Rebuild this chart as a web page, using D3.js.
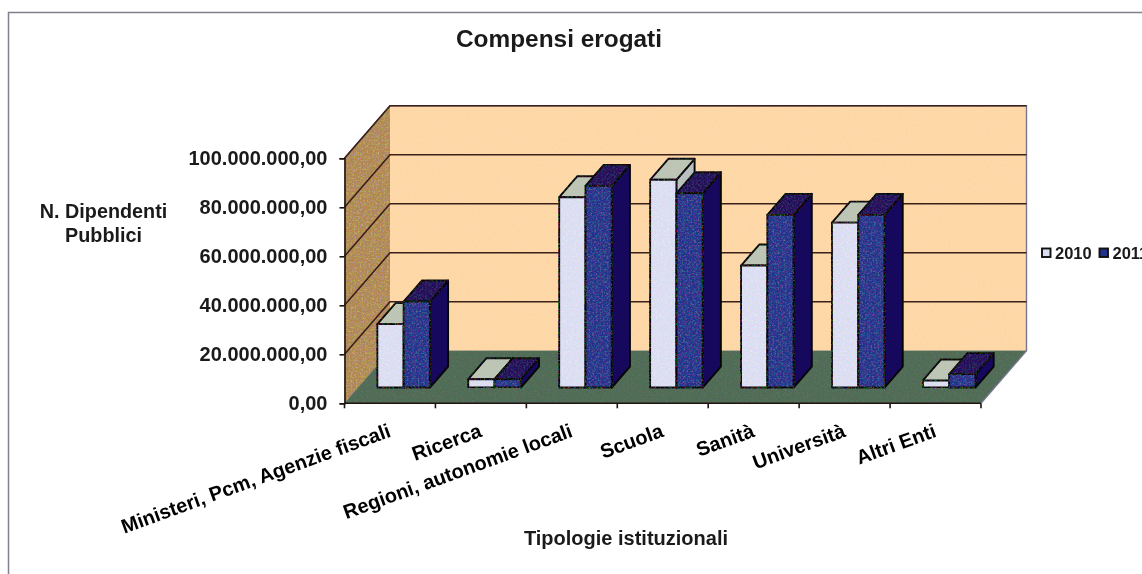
<!DOCTYPE html>
<html>
<head>
<meta charset="utf-8">
<script src="https://cdn.jsdelivr.net/npm/d3@7"></script>
<style>
  html, body { margin: 0; padding: 0; background: #fff; overflow: hidden; }
  svg { filter: blur(0.45px); }
  text { font-family: "Liberation Sans", Arial, sans-serif; font-weight: bold; fill: #1a1a1a; }
</style>
</head>
<body>
<script>
const categories = ["Ministeri, Pcm, Agenzie fiscali", "Ricerca", "Regioni, autonomie locali", "Scuola", "Sanità", "Università", "Altri Enti"];
const seriesNames = ["2010", "2011"];
const values2010 = [25900000, 3400000, 77700000, 84800000, 49800000, 67300000, 2900000];
const values2011 = [35100000, 3400000, 82300000, 79300000, 70500000, 70500000, 5500000];
const yTicks = [0, 20000000, 40000000, 60000000, 80000000, 100000000];

const width = 1142;
const height = 574;

// front plane of the 3d box, the back wall is shifted by depthX/depthY
const depthX = 45.5;
const depthY = -52.5;
const x = d3.scaleBand().domain(categories).range([344.5, 981]);
const y = d3.scaleLinear().domain([0, 100000000]).range([403.3, 158.3]);
const xInner = d3.scaleBand().domain(seriesNames).range([0, x.bandwidth()]).paddingOuter(0.73).paddingInner(0);

const fmt = d => d3.format(",.2f")(d).replace(/,/g, "#").replace(".", ",").replace(/#/g, ".");

const svg = d3.select("body").append("svg")
    .attr("width", width)
    .attr("height", height)
    .style("display", "block");

// scan grain
const defs = svg.append("defs");
function grain(id, seed, amount) {
  const f = defs.append("filter").attr("id", id)
    .attr("x", "-5%").attr("y", "-5%").attr("width", "110%").attr("height", "110%");
  f.append("feTurbulence").attr("type", "fractalNoise").attr("baseFrequency", 0.55)
    .attr("numOctaves", 2).attr("seed", seed).attr("result", "n");
  f.append("feColorMatrix").attr("in", "n").attr("type", "matrix")
    .attr("values", `${amount} 0 0 0 ${-amount / 2}  0 ${amount} 0 0 ${-amount / 2}  0 0 ${amount} 0 ${-amount / 2}  0 0 0 0 1`)
    .attr("result", "c");
  f.append("feComposite").attr("in", "SourceGraphic").attr("in2", "c")
    .attr("operator", "arithmetic").attr("k1", 0).attr("k2", 1).attr("k3", 1).attr("k4", 0)
    .attr("result", "m");
  f.append("feComposite").attr("in", "m").attr("in2", "SourceGraphic").attr("operator", "in");
}
grain("grainWall", 3, 0.7);
grain("grainBack", 7, 0.14);
grain("grainBar", 11, 0.4);

// page frame
svg.append("path").attr("d", "M8.5,574V12.5H1142").attr("fill", "none").attr("stroke", "#80808f").attr("stroke-width", 1.5);

const line = d3.line();
const x0 = x.range()[0], x1 = x.range()[1], yBase = y(0), yTop = y(100000000);

const box = svg.append("g");
// back wall
box.append("path")
    .attr("d", line([[x0 + depthX, yTop + depthY], [x1 + depthX, yTop + depthY], [x1 + depthX, yBase + depthY], [x0 + depthX, yBase + depthY]]) + "Z")
    .attr("fill", "#fdd7a6").attr("filter", "url(#grainBack)");
// side wall
box.append("path")
    .attr("d", line([[x0, yTop], [x0 + depthX, yTop + depthY], [x0 + depthX, yBase + depthY], [x0, yBase]]) + "Z")
    .attr("fill", "#ad8750").attr("filter", "url(#grainWall)");
// floor
box.append("path")
    .attr("d", line([[x0, yBase], [x0 + depthX, yBase + depthY], [x1 + depthX, yBase + depthY], [x1, yBase]]) + "Z")
    .attr("fill", "#4f6b54").attr("filter", "url(#grainBack)");
// wall outlines
box.append("path")
    .attr("d", line([[x0, yTop], [x0 + depthX, yTop + depthY], [x1 + depthX, yTop + depthY], [x1 + depthX, yBase + depthY], [x1, yBase]]))
    .attr("fill", "none").attr("stroke", "#77778f").attr("stroke-width", 1.4);

// gridlines, running over side wall and back wall
box.append("g").selectAll("path")
  .data(yTicks.slice(1, -1).concat(100000000))
  .join("path")
    .attr("d", d => line([[x0, y(d)], [x0 + depthX, y(d) + depthY], [x1 + depthX, y(d) + depthY]]))
    .attr("fill", "none").attr("stroke", "#3a2018").attr("stroke-width", 1.6);

// axes
const yAxis = svg.append("g").attr("transform", `translate(${x0},0)`)
    .call(d3.axisLeft(y).tickValues(yTicks).tickFormat(fmt).tickSize(5).tickPadding(12));
yAxis.selectAll("text").style("font-size", "20px");

const tickPos = categories.map(c => x(c)).concat(x1);
const xAxisG = svg.append("g");
xAxisG.append("line").attr("x1", x0).attr("x2", x1).attr("y1", yBase).attr("y2", yBase);
xAxisG.selectAll("line.t").data(tickPos).join("line").attr("class", "t")
    .attr("x1", d => d).attr("x2", d => d).attr("y1", yBase).attr("y2", yBase + 5);
xAxisG.selectAll("line").attr("stroke", "#1f1410").attr("stroke-width", 1.6);
yAxis.selectAll("path,line").attr("stroke", "#1f1410").attr("stroke-width", 1.6);

// bars: base sits at 0.3 of the floor depth, 0.4 deep
const barFront = 0.3, barDepth = 0.4;
const dOff = [depthX * barFront, depthY * barFront];
const bx = depthX * barDepth, by = depthY * barDepth;

const styles = {
  "2010": { front: "#dadcf0", side: "#b8c0c0", top: "#bcc4b4" },
  "2011": { front: "#22318a", side: "#16085c", top: "#22115a" }
};

const rows = categories.flatMap((c, i) => [
  { c, s: "2010", v: values2010[i] },
  { c, s: "2011", v: values2011[i] }
]);

const bars = svg.append("g").selectAll("g")
  .data(rows)
  .join("g")
    .attr("stroke", "#050404").attr("stroke-width", 1.9).attr("stroke-linejoin", "round");

bars.each(function (d) {
  const g = d3.select(this);
  const l = x(d.c) + xInner(d.s) + dOff[0];
  const r = l + xInner.bandwidth();
  const t = y(d.v) + dOff[1];
  const b = y(0) + dOff[1];
  const st = styles[d.s];
  g.append("path").attr("d", line([[r, t], [r + bx, t + by], [r + bx, b + by], [r, b]]) + "Z").attr("fill", st.side);
  g.append("path").attr("d", line([[l, t], [l + bx, t + by], [r + bx, t + by], [r, t]]) + "Z").attr("fill", st.top).attr("filter", "url(#grainBack)");
  g.append("rect").attr("x", l).attr("y", t).attr("width", r - l).attr("height", b - t).attr("fill", st.front).attr("filter", "url(#grainBar)");
});

// category labels, rotated and ending under the tick
svg.append("g").selectAll("text")
  .data(categories)
  .join("text")
    .attr("text-anchor", "end")
    .attr("transform", d => `translate(${x(d) + x.bandwidth() / 2 + 2},${yBase + 33}) rotate(-20)`)
    .style("font-size", "20px")
    .style("fill", "#000")
    .text(d => d);

svg.append("text").attr("x", 559).attr("y", 47).attr("text-anchor", "middle").style("font-size", "24.4px").text("Compensi erogati");
svg.append("text").attr("x", 626).attr("y", 545).attr("text-anchor", "middle").style("font-size", "20px").text("Tipologie istituzionali");
svg.append("text").attr("x", 103.5).attr("y", 218).attr("text-anchor", "middle").style("font-size", "19.8px").text("N. Dipendenti");
svg.append("text").attr("x", 103.5).attr("y", 242).attr("text-anchor", "middle").style("font-size", "19.8px").text("Pubblici");

// legend, runs off the right edge like in the source
const legendX = d3.scaleOrdinal().domain(seriesNames).range([1042, 1099.5]);
const legend = svg.append("g").selectAll("g").data(seriesNames).join("g")
    .attr("transform", d => `translate(${legendX(d)},248.5)`);
legend.append("rect").attr("width", 8.5).attr("height", 8.5)
    .attr("fill", d => styles[d].front).attr("stroke", "#111").attr("stroke-width", 1.9);
legend.append("text").attr("x", 13).attr("y", 10.5).style("font-size", "16.5px").text(d => d);
</script>
</body>
</html>
